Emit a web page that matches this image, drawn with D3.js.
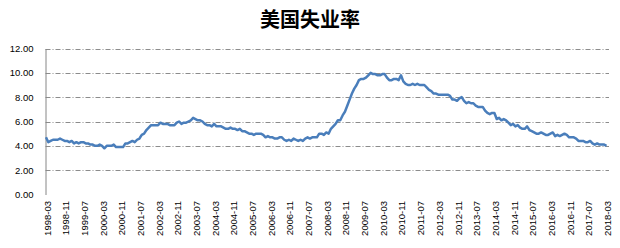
<!DOCTYPE html>
<html>
<head>
<meta charset="utf-8">
<script src="https://cdn.jsdelivr.net/npm/d3@7"></script>
<style>
  body { margin: 0; background: #fff; }
  svg { display: block; }
</style>
</head>
<body>
<svg id="chart" width="620" height="248"></svg>
<script>
// chart title
var title = "美国失业率";

// first month of the series, the rest follow month by month
var startYear = 1998;
var startMonth = 3;

// monthly unemployment rate (%), 1998-03 .. 2018-03
var rates = [
  4.7, 4.3, 4.4, 4.5, 4.5, 4.5, 4.6, 4.5, 4.4, 4.4,
  4.3, 4.4, 4.2, 4.3, 4.2, 4.3, 4.3, 4.2, 4.2, 4.1, 4.1, 4.0,
  4.0, 4.1, 4.0, 3.8, 4.0, 4.0, 4.0, 4.1, 3.9, 3.9, 3.9, 3.9,
  4.2, 4.2, 4.3, 4.4, 4.3, 4.5, 4.6, 4.9, 5.0, 5.3, 5.5, 5.7,
  5.7, 5.7, 5.7, 5.9, 5.8, 5.8, 5.8, 5.7, 5.7, 5.7, 5.9, 6.0,
  5.8, 5.9, 5.9, 6.0, 6.1, 6.3, 6.2, 6.1, 6.1, 6.0, 5.8, 5.7,
  5.7, 5.6, 5.8, 5.6, 5.6, 5.6, 5.5, 5.4, 5.4, 5.5, 5.4, 5.4,
  5.3, 5.4, 5.2, 5.2, 5.1, 5.0, 5.0, 4.9, 5.0, 5.0, 5.0, 4.9,
  4.7, 4.8, 4.7, 4.7, 4.6, 4.6, 4.7, 4.7, 4.5, 4.4, 4.5, 4.4,
  4.6, 4.5, 4.4, 4.5, 4.4, 4.6, 4.7, 4.6, 4.7, 4.7, 4.7, 5.0,
  5.0, 4.9, 5.1, 5.0, 5.4, 5.6, 5.8, 6.1, 6.1, 6.5, 6.8, 7.3,
  7.8, 8.3, 8.7, 9.0, 9.4, 9.5, 9.5, 9.6, 9.8, 10.0, 9.9, 9.9,
  9.8, 9.8, 9.9, 9.9, 9.6, 9.4, 9.4, 9.5, 9.5, 9.4, 9.8, 9.3,
  9.1, 9.0, 9.0, 9.1, 9.0, 9.1, 9.0, 9.0, 9.0, 8.8, 8.6, 8.5,
  8.3, 8.3, 8.2, 8.2, 8.2, 8.2, 8.2, 8.1, 7.8, 7.8, 7.7, 7.9,
  8.0, 7.7, 7.5, 7.6, 7.5, 7.5, 7.3, 7.2, 7.2, 7.2, 6.9, 6.7,
  6.6, 6.7, 6.7, 6.2, 6.3, 6.1, 6.2, 6.1, 5.9, 5.7, 5.8, 5.6,
  5.7, 5.5, 5.4, 5.4, 5.6, 5.3, 5.2, 5.1, 5.0, 5.0, 5.1, 5.0,
  4.9, 4.9, 5.0, 5.1, 4.8, 4.9, 4.8, 4.9, 5.0, 4.9, 4.7, 4.7,
  4.7, 4.6, 4.4, 4.4, 4.4, 4.3, 4.3, 4.4, 4.2, 4.1, 4.2, 4.1,
  4.1, 4.1, 4.0
];

// labels shown on the category axis (every 8th month)
var xTickLabels = [
  "1998-03", "1998-11", "1999-07", "2000-03", "2000-11", "2001-07",
  "2002-03", "2002-11", "2003-07", "2004-03", "2004-11", "2005-07",
  "2006-03", "2006-11", "2007-07", "2008-03", "2008-11", "2009-07",
  "2010-03", "2010-11", "2011-07", "2012-03", "2012-11", "2013-07",
  "2014-03", "2014-11", "2015-07", "2016-03", "2016-11", "2017-07",
  "2018-03"
];

// value axis ticks
var yTicks = [0, 2, 4, 6, 8, 10, 12];

//build the month names that go with each rate
var months = rates.map(function (d, i) {
  var m = startMonth - 1 + i;
  var yr = startYear + Math.floor(m / 12);
  var mm = (m % 12) + 1;
  return yr + "-" + (mm < 10 ? "0" + mm : "" + mm);
});

var data = months.map(function (m, i) {
  return {month : m, rate : rates[i]};
});

var svg = d3.select("#chart");

var axisX = 45.5;
var plotLeft = 46;
var plotRight = 606.5;
var plotTop = 48.5;
var plotBottom = 194.5;

var x = d3.scalePoint()
  .domain(months)
  .range([plotLeft, plotRight]);

var y = d3.scaleLinear()
  .domain([0, 12])
  .range([plotBottom, plotTop]);

//title on top
svg.append("text")
  .attr("x", 310)
  .attr("y", 27)
  .attr("text-anchor", "middle")
  .style("font-family", "'Noto Sans CJK SC', sans-serif")
  .style("font-size", "20px")
  .style("font-weight", "bold")
  .style("fill", "#000")
  .text(title);

//dash-dot gridlines, skipping the zero line
svg.append("g")
  .selectAll("line")
  .data(yTicks.filter(function (t) { return t > 0; }))
  .enter().append("line")
  .attr("x1", axisX)
  .attr("x2", 609)
  .attr("y1", function (d) { return Math.round(y(d)) + 0.5; })
  .attr("y2", function (d) { return Math.round(y(d)) + 0.5; })
  .style("stroke", "#8c8c8c")
  .style("stroke-width", 1)
  .style("stroke-dasharray", "5,2,1,2");

//value axis with only the vertical line and labels
var yAxis = d3.axisLeft(y)
  .tickValues(yTicks)
  .tickSize(0)
  .tickPadding(12)
  .tickFormat(d3.format(".2f"));

var yG = svg.append("g")
  .attr("transform", "translate(" + axisX + ",0)")
  .call(yAxis);

yG.select(".domain")
  .style("stroke", "#868686");

yG.selectAll("text")
  .style("font-family", "'Liberation Sans', Arial, sans-serif")
  .style("font-size", "9.5px")
  .style("fill", "#000");

//rotated category labels below the plot
svg.append("g")
  .selectAll("text")
  .data(xTickLabels)
  .enter().append("text")
  .attr("transform", function (d) {
    return "translate(" + (x(d) + 1) + ",201) rotate(-90)";
  })
  .attr("text-anchor", "end")
  .attr("dominant-baseline", "central")
  .style("font-family", "'Liberation Sans', Arial, sans-serif")
  .style("font-size", "9.5px")
  .style("fill", "#000")
  .text(function (d) { return d; });

//the rate line itself
var line = d3.line()
  .x(function (d) { return x(d.month); })
  .y(function (d) { return y(d.rate); });

svg.append("path")
  .datum(data)
  .attr("d", line)
  .style("fill", "none")
  .style("stroke", "#4a7ebb")
  .style("stroke-width", 2.5)
  .style("stroke-linejoin", "round");
</script>
</body>
</html>
